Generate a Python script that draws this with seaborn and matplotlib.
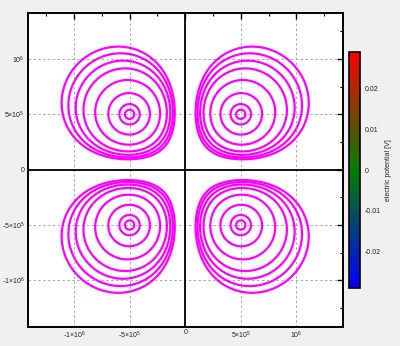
import numpy as np
import matplotlib
matplotlib.use("Agg")
import matplotlib.pyplot as plt
from matplotlib.colors import LinearSegmentedColormap, Normalize
import matplotlib.cm as cm
import seaborn as sns

# ---- data ----
charge_x = [-5e5, 5e5, -5e5, 5e5]
charge_y = [5e5, 5e5, -5e5, -5e5]
charge_sign = [1, -1, -1, 1]
# potential scale (V * m)
pot_scale = 0.0025 * 5e5
# contour levels (V), both signs drawn
levels_pos = [0.0282, 0.0120, 0.00505, 0.00265, 0.00171, 0.00133, 0.00107, 0.00089]
x_ticks = [-1e6, -5e5, 0, 5e5, 1e6]
x_ticklabels = [r"-1$\times$10$^{6}$", r"-5$\times$10$^{5}$", "0", r"5$\times$10$^{5}$", r"10$^{6}$"]
y_ticks = [-1e6, -5e5, 0, 5e5, 1e6]
y_ticklabels = [r"-1$\times$10$^{6}$", r"-5$\times$10$^{5}$", "0", r"5$\times$10$^{5}$", r"10$^{6}$"]
cbar_ticks = [-0.02, -0.01, 0, 0.01, 0.02]
cbar_ticklabels = ["-0.02", "-0.01", "0", "0.01", "0.02"]
v_range = 0.029
lim = 1.418e6

sns.set_style("white")
plt.rcParams["font.family"] = ["Liberation Sans", "DejaVu Sans"]
plt.rcParams["mathtext.fontset"] = "custom"
plt.rcParams["mathtext.rm"] = "Liberation Sans"
plt.rcParams["mathtext.it"] = "Liberation Sans"
plt.rcParams["mathtext.default"] = "regular"

fig = plt.figure(figsize=(4.0, 3.46), dpi=100)
fig.patch.set_facecolor("#f0f0f0")
ax = fig.add_axes([0.069, 0.0558, 0.788, 0.9075])
ax.set_facecolor("white")

xs = np.linspace(-lim, lim, 901)
ys = np.linspace(-lim, lim, 901)
X, Y = np.meshgrid(xs, ys)
V = np.zeros_like(X)
with np.errstate(divide="ignore", invalid="ignore"):
    for cx, cy, s in zip(charge_x, charge_y, charge_sign):
        r = np.hypot(X - cx, Y - cy)
        V += s * pot_scale / np.maximum(r, 1.0)

levels = sorted([-v for v in levels_pos] + levels_pos)
ax.contour(X, Y, V, levels=levels, colors="#ff00ff", linewidths=1.6, linestyles="solid")

ax.set_xlim(-lim, lim)
ax.set_ylim(-lim, lim)

ax.set_xticks(x_ticks)
ax.set_xticklabels(x_ticklabels)
ax.set_yticks(y_ticks)
ax.set_yticklabels(y_ticklabels)
ax.set_xticks(np.arange(-1.25e6, 1.3e6, 2.5e5), minor=True)
ax.set_yticks(np.arange(-1.25e6, 1.3e6, 2.5e5), minor=True)
ax.tick_params(which="major", direction="in", length=4, width=1.0, color="black",
               top=True, right=True, labelsize=5, labelcolor="#222222", pad=2)
ax.tick_params(which="minor", direction="in", length=2.5, width=0.8, color="black",
               top=True, right=True)
ax.grid(True, which="major", color="#aaaaaa", linestyle=(0, (2.5, 2.5)), linewidth=0.7)
ax.axhline(0, color="black", linewidth=1.3, zorder=3)
ax.axvline(0, color="black", linewidth=1.3, zorder=3)
for sp in ax.spines.values():
    sp.set_visible(True)
    sp.set_color("black")
    sp.set_linewidth(1.4)

cmap = LinearSegmentedColormap.from_list("bgr", [(0, 0, 1), (0, 0.5, 0), (1, 0, 0)])
cax = fig.add_axes([0.872, 0.1685, 0.029, 0.680])
sm = cm.ScalarMappable(norm=Normalize(-v_range, v_range), cmap=cmap)
cb = fig.colorbar(sm, cax=cax)
cb.set_ticks(cbar_ticks)
cb.set_ticklabels(cbar_ticklabels)
cb.ax.tick_params(direction="in", length=2.5, width=0.8, labelsize=5, labelcolor="#222222", pad=3)
cb.outline.set_linewidth(1.2)
cb.outline.set_edgecolor("black")
cb.set_label("electric potential [V]", fontsize=5, color="#222222", labelpad=3)

fig.savefig("out.png", dpi=100, facecolor=fig.get_facecolor())
